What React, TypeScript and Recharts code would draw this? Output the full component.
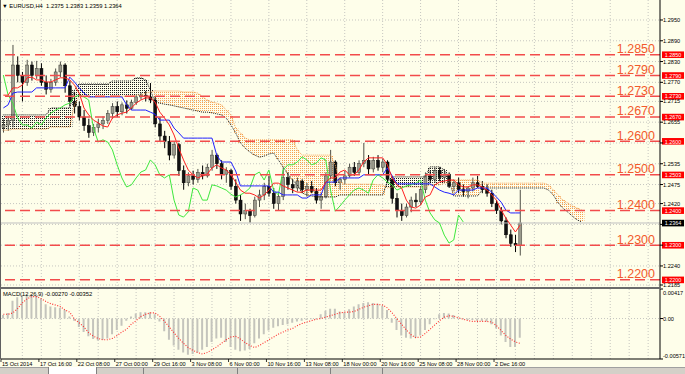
import React from "react";
import { ComposedChart, Bar, Line, XAxis, YAxis, ReferenceLine, CartesianGrid } from "recharts";

// EURUSD H4 - one slot holds two H4 bars. Quotes are the last four digits: 2647 -> 1.2647
const opens = [
  2640, 2647, 2660, 2820, 2790, 2770, 2820, 2790, 2810, 2770,
  2750, 2770, 2800, 2820, 2760, 2715, 2700, 2670, 2645, 2625,
  2640, 2650, 2660, 2680, 2700, 2685, 2705, 2695, 2712, 2728,
  2733, 2728, 2719, 2650, 2615, 2600, 2560, 2590, 2515, 2480,
  2500, 2490, 2510, 2500, 2525, 2560, 2535, 2505, 2515, 2470,
  2430, 2390, 2400, 2385, 2430, 2445, 2470, 2450, 2420, 2440,
  2495, 2475, 2465, 2485, 2460, 2470, 2455, 2430, 2440, 2500,
  2540, 2480, 2490, 2500, 2525, 2510, 2535, 2545, 2520, 2545,
  2525, 2540, 2490, 2435, 2400, 2385, 2410, 2430, 2425, 2460,
  2500, 2490, 2515, 2495, 2505, 2470, 2480, 2460, 2455, 2465,
  2480, 2470, 2460, 2450, 2420, 2400, 2370, 2330, 2305, 2300,
];
const highs = [
  2665, 2672, 2878, 2845, 2800, 2835, 2830, 2832, 2825, 2790,
  2780, 2810, 2830, 2825, 2775, 2740, 2715, 2690, 2665, 2650,
  2665, 2672, 2690, 2710, 2715, 2712, 2718, 2720, 2735, 2740,
  2745, 2768, 2730, 2670, 2630, 2615, 2600, 2595, 2530, 2510,
  2515, 2520, 2530, 2535, 2575, 2565, 2545, 2525, 2520, 2490,
  2445, 2420, 2405, 2440, 2460, 2480, 2500, 2465, 2450, 2525,
  2510, 2490, 2495, 2490, 2480, 2485, 2465, 2450, 2510, 2575,
  2545, 2495, 2515, 2535, 2540, 2545, 2595, 2560, 2555, 2560,
  2550, 2545, 2500, 2450, 2420, 2420, 2440, 2450, 2470, 2510,
  2515, 2525, 2525, 2520, 2510, 2490, 2495, 2475, 2470, 2495,
  2500, 2485, 2475, 2460, 2430, 2410, 2380, 2345, 2330, 2460,
];
const lows = [
  2625, 2630, 2640, 2770, 2715, 2760, 2775, 2780, 2760, 2735,
  2740, 2760, 2785, 2740, 2700, 2680, 2660, 2630, 2610, 2615,
  2625, 2635, 2650, 2665, 2670, 2675, 2680, 2690, 2705, 2720,
  2715, 2710, 2640, 2600, 2580, 2545, 2550, 2500, 2460, 2470,
  2475, 2480, 2490, 2495, 2515, 2520, 2490, 2480, 2460, 2420,
  2370, 2375, 2365, 2380, 2410, 2430, 2440, 2405, 2400, 2430,
  2460, 2450, 2455, 2450, 2440, 2450, 2420, 2405, 2435, 2490,
  2470, 2460, 2475, 2495, 2500, 2505, 2525, 2505, 2510, 2515,
  2510, 2480, 2420, 2380, 2370, 2380, 2395, 2410, 2415, 2450,
  2480, 2480, 2485, 2480, 2465, 2455, 2450, 2440, 2435, 2455,
  2465, 2450, 2440, 2410, 2390, 2360, 2320, 2295, 2280, 2270,
];
const closes = [
  2647, 2660, 2820, 2790, 2770, 2820, 2790, 2810, 2770, 2750,
  2770, 2800, 2820, 2760, 2715, 2700, 2670, 2645, 2625, 2640,
  2650, 2660, 2680, 2700, 2685, 2705, 2695, 2712, 2728, 2733,
  2728, 2719, 2650, 2615, 2600, 2560, 2590, 2515, 2480, 2500,
  2490, 2510, 2500, 2525, 2560, 2535, 2505, 2515, 2470, 2430,
  2390, 2400, 2385, 2430, 2445, 2470, 2450, 2420, 2440, 2495,
  2475, 2465, 2485, 2460, 2470, 2455, 2430, 2440, 2500, 2540,
  2480, 2490, 2500, 2525, 2510, 2535, 2545, 2520, 2545, 2525,
  2540, 2490, 2435, 2400, 2385, 2410, 2430, 2425, 2460, 2500,
  2490, 2515, 2495, 2505, 2470, 2480, 2460, 2455, 2465, 2480,
  2470, 2460, 2450, 2420, 2400, 2370, 2330, 2305, 2300, 2364,
];

// Ichimoku
const tenkan = [
  2733, 2733, 2754, 2754, 2762, 2783, 2785, 2777, 2777, 2771,
  2771, 2777, 2783, 2783, 2777, 2762, 2739, 2696, 2676, 2661,
  2653, 2644, 2641, 2667, 2676, 2681, 2684, 2696, 2710, 2719,
  2725, 2725, 2713, 2684, 2667, 2647, 2618, 2580, 2546, 2517,
  2503, 2494, 2500, 2505, 2523, 2532, 2523, 2517, 2503, 2482,
  2459, 2450, 2450, 2445, 2436, 2445, 2459, 2479, 2479, 2471,
  2465, 2459, 2453, 2453, 2459, 2459, 2459, 2459, 2482, 2494,
  2494, 2511, 2517, 2503, 2503, 2517, 2540, 2552, 2552, 2552,
  2552, 2532, 2494, 2474, 2465, 2430, 2410, 2407, 2416, 2439,
  2445, 2474, 2482, 2485, 2488, 2488, 2474, 2468, 2468, 2474,
  2474, 2468, 2459, 2445, 2430, 2401, 2378, 2358, 2338, 2358,
];
const kijun = [
  2696, 2705, 2739, 2742, 2742, 2742, 2742, 2754, 2754, 2754,
  2754, 2754, 2754, 2754, 2785, 2771, 2754, 2739, 2728, 2728,
  2728, 2728, 2728, 2728, 2728, 2728, 2705, 2690, 2690, 2690,
  2690, 2684, 2678, 2661, 2661, 2661, 2638, 2624, 2609, 2609,
  2609, 2609, 2609, 2609, 2609, 2560, 2540, 2540, 2540, 2514,
  2471, 2471, 2471, 2471, 2471, 2471, 2471, 2453, 2453, 2445,
  2445, 2445, 2445, 2436, 2436, 2445, 2445, 2445, 2482, 2482,
  2482, 2494, 2494, 2494, 2494, 2494, 2503, 2503, 2503, 2503,
  2503, 2523, 2500, 2477, 2477, 2477, 2477, 2477, 2477, 2477,
  2477, 2468, 2459, 2453, 2450, 2445, 2459, 2459, 2459, 2459,
  2465, 2465, 2465, 2453, 2439, 2424, 2401, 2393, 2393, 2393,
];
const chikou = [
  2791, 2733, 2710, 2667, 2647, 2647, 2638, 2655, 2647, 2667,
  2681, 2690, 2696, 2705, 2710, 2728, 2733, 2728, 2719, 2638,
  2598, 2604, 2598, 2575, 2532, 2494, 2468, 2474, 2494, 2511,
  2517, 2546, 2532, 2503, 2494, 2503, 2430, 2387, 2381, 2396,
  2465, 2459, 2430, 2430, 2474, 2471, 2465, 2459, 2447, 2439,
  2445, 2453, 2465, 2503, 2511, 2488, 2517, 2459, 2445, 2517,
  2532, 2532, 2540, 2555, 2546, 2532, 2537, 2552, 2546, 2459,
  2398, 2413, 2430, 2445, 2459, 2465, 2459, 2450, 2488, 2503,
  2494, 2482, 2474, 2459, 2465, 2471, 2474, 2479, 2488, 2430,
  2393, 2373, 2364, 2329, 2306, 2315, 2387, 2367,
];
const spanA = [
  2632, 2632, 2635, 2635, 2635, 2635, 2635, 2635, 2635, 2635,
  2641, 2641, 2641, 2641, 2641, 2705, 2728, 2728, 2728, 2728,
  2728, 2728, 2728, 2730, 2730, 2730, 2730, 2730, 2733, 2733,
  2739, 2742, 2745, 2745, 2745, 2745, 2745, 2745, 2742, 2742,
  2742, 2739, 2728, 2719, 2713, 2710, 2705, 2690, 2676, 2638,
  2624, 2609, 2604, 2604, 2604, 2604, 2604, 2604, 2604, 2604,
  2604, 2604, 2575, 2560, 2560, 2560, 2560, 2560, 2560, 2560,
  2531, 2482, 2476, 2476, 2476, 2476, 2476, 2476, 2476, 2474,
  2474, 2465, 2468, 2468, 2468, 2468, 2468, 2468, 2468, 2468,
  2474, 2474, 2474, 2479, 2482, 2488, 2488, 2488, 2488, 2488,
  2488, 2479, 2479, 2479, 2479, 2479, 2479, 2479, 2479, 2479,
  2479, 2479, 2479, 2479, 2479, 2474, 2459, 2445, 2430, 2422,
  2413, 2407, 2401,
];
const spanB = [
  2676, 2676, 2676, 2676, 2676, 2676, 2676, 2676, 2676, 2676,
  2696, 2696, 2696, 2696, 2696, 2748, 2765, 2765, 2765, 2765,
  2765, 2765, 2765, 2774, 2774, 2774, 2774, 2774, 2783, 2783,
  2777, 2748, 2713, 2710, 2707, 2705, 2702, 2699, 2696, 2693,
  2690, 2687, 2684, 2684, 2682, 2679, 2676, 2667, 2647, 2624,
  2595, 2580, 2569, 2560, 2554, 2557, 2563, 2566, 2546, 2526,
  2505, 2488, 2474, 2451, 2445, 2442, 2439, 2439, 2439, 2439,
  2439, 2445, 2445, 2445, 2445, 2445, 2445, 2445, 2445, 2445,
  2445, 2482, 2497, 2497, 2497, 2497, 2497, 2497, 2497, 2497,
  2526, 2526, 2526, 2517, 2488, 2442, 2442, 2442, 2442, 2442,
  2442, 2459, 2465, 2465, 2465, 2465, 2465, 2465, 2465, 2465,
  2465, 2465, 2465, 2465, 2465, 2459, 2445, 2422, 2407, 2396,
  2384, 2373, 2367,
];

// MACD(12,26,9) in units of 0.0001
const macdMain = [
  5, 8, 25, 30, 33, 34, 34, 32, 28, 20,
  17, 16, 15, 12, 3, -3, -12, -19, -25, -29,
  -31, -30, -28, -22, -16, -10, -3, 3, 7, 9,
  9, 9, 6, -4, -18, -30, -38, -44, -48, -51,
  -50, -48, -44, -40, -33, -28, -27, -33, -40, -44,
  -46, -45, -43, -35, -28, -22, -17, -13, -11, -9,
  -8, -6, -4, -3, -2, -1, -1, 6, 11, 14,
  14, 10, 9, 13, 17, 20, 22, 23, 22, 21,
  18, 12, -6, -16, -24, -27, -28, -27, -24, -16,
  -8, -1, 6, 8, 7, 5, 1, -1, -2, -2,
  -3, -3, -4, -8, -14, -24, -33, -40, -40, -27,
];
const macdSignal = [
  6, 6, 8, 14, 22, 28, 31, 31, 28, 24,
  21, 19, 17, 12, 9, -1, -6, -12, -20, -25,
  -28, -30, -30, -28, -24, -19, -15, -8, -3, 3,
  6, 8, 8, 3, -4, -12, -20, -28, -35, -41,
  -45, -48, -50, -48, -44, -40, -35, -30, -26, -25,
  -29, -34, -38, -41, -38, -34, -30, -26, -22, -19,
  -16, -14, -10, -7, -5, -3, -1, 0, 2, 4,
  6, 8, 9, 9, 10, 13, 16, 18, 20, 20,
  19, 15, 8, 0, -8, -16, -23, -27, -26, -21,
  -15, -9, -3, 2, 4, 3, 1, -1, -3, -4,
  -4, -4, -4, -5, -10, -17, -24, -29, -33, -35,
];

// horizontal levels drawn on the chart
const levels = [2850, 2790, 2730, 2670, 2600, 2503, 2400, 2300, 2200];
const levelTitles = ["1.2850", "1.2790", "1.2730", "1.2670", "1.2600", "1.2500", "1.2400", "1.2300", "1.2200"];
const bid = 2364;

const priceTicks = [2950, 2890, 2830, 2770, 2715, 2655, 2595, 2535, 2475, 2420, 2360, 2300, 2240, 2185];
const hiddenTicks = [2595, 2360, 2300];
const macdTicks = [0.00417, 0, -0.00571];
const macdTickText = ["0.00417", "0.00", "-0.00571"];

const timeSlots = [0, 8, 16, 24, 32, 40, 48, 56, 64, 72, 80, 88, 96, 104];
const timeLabels = [
  "15 Oct 2014", "17 Oct 16:00", "22 Oct 08:00", "27 Oct 00:00", "29 Oct 16:00",
  "3 Nov 08:00", "6 Nov 00:00", "10 Nov 16:00", "13 Nov 08:00", "18 Nov 00:00",
  "20 Nov 16:00", "25 Nov 08:00", "28 Nov 00:00", "2 Dec 16:00",
];

const SLOTS = 139;
const BG = "#fefeea";
const FONT = "'Liberation Sans', Arial, sans-serif";
const LEVEL_RED = "#f24b4b";
const CLOUD_UP = "#f5a050";
const CLOUD_DN = "#1a1a1a";

const q = (v?: number | null) => (v == null ? null : 1 + v / 10000);
const gridSlots = Array.from({ length: 34 }, (_, k) => (k + 1) * 4);

const rows = Array.from({ length: SLOTS }, (_, i) => ({
  i,
  o: q(opens[i]),
  h: q(highs[i]),
  l: q(lows[i]),
  c: q(closes[i]),
  tenkan: q(tenkan[i]),
  kijun: q(kijun[i]),
  chikou: q(chikou[i]),
  spanA: q(spanA[i]),
  spanB: q(spanB[i]),
  macd: macdMain[i] == null ? null : macdMain[i] / 10000,
  signal: macdSignal[i] == null ? null : macdSignal[i] / 10000,
}));

function Candle(props: any) {
  const { x, y, width, height, payload } = props;
  if (payload.h == null || height == null) return null;
  const { o, h, l, c } = payload;
  const k = h - l > 0 ? height / (h - l) : 0;
  const cx = x + width / 2;
  const top = y + (h - Math.max(o, c)) * k;
  const bot = y + (h - Math.min(o, c)) * k;
  const up = c >= o;
  return (
    <g>
      <line x1={cx} x2={cx} y1={y} y2={y + height} stroke={up ? "#505048" : "#000"} strokeWidth={1} />
      <rect
        x={cx - 1.5}
        y={top}
        width={3}
        height={Math.max(bot - top, 0.8)}
        fill={up ? "#9a9a8c" : "#111"}
        stroke={up ? "#3c3c36" : "#000"}
        strokeWidth={0.5}
      />
    </g>
  );
}

// Kumo: dotted fill between the two spans, coloured by which span is on top
function CloudStrip(props: any) {
  const { x, y, width, height, payload } = props;
  if (payload.spanA == null || height == null) return null;
  const fill = payload.spanA >= payload.spanB ? "url(#kumoUp)" : "url(#kumoDn)";
  return <rect x={x} y={y} width={width} height={Math.max(height, 1)} fill={fill} />;
}

function LevelLabel(props: any) {
  const { viewBox, title, box, boxColor } = props;
  if (!viewBox) return null;
  const right = viewBox.x + viewBox.width;
  const y = viewBox.y;
  return (
    <g fontFamily={FONT}>
      {title && (
        <text x={right - 5} y={y - 1.6} textAnchor="end" fontSize={12.5} fill="#f25a2c">
          {title}
        </text>
      )}
      <rect x={right + 2} y={y - 3.2} width={22} height={6.6} fill={boxColor} />
      <text x={right + 13} y={y + 0.3} textAnchor="middle" dominantBaseline="central" fontSize={5.4} fill="#fff">
        {box}
      </text>
    </g>
  );
}

function PriceTick(props: any) {
  const { x, y, payload } = props;
  const pip = Math.round((payload.value - 1) * 10000);
  if (hiddenTicks.includes(pip)) return null;
  return (
    <text x={x} y={y} dominantBaseline="central" fontSize={5.6} fill="#000" fontFamily={FONT}>
      {payload.value.toFixed(4)}
    </text>
  );
}

function MacdTick(props: any) {
  const { x, y, index } = props;
  const shift = index === 0 ? 4 : index === 2 ? -3 : 0;
  return (
    <text x={x} y={y + shift} dominantBaseline="central" fontSize={5.6} fill="#000" fontFamily={FONT}>
      {macdTickText[index]}
    </text>
  );
}

function TimeTick(props: any) {
  const { x, y, payload } = props;
  const idx = timeSlots.indexOf(payload.value);
  if (idx < 0) return null;
  const left = x - 2.4;
  return (
    <g fontFamily={FONT}>
      <line x1={left} x2={left} y1={y} y2={y + 3} stroke="#000" strokeWidth={0.8} />
      <text x={left + 1} y={y + 6.8} fontSize={5.6} fill="#000">
        {timeLabels[idx]}
      </text>
    </g>
  );
}

export default function App() {
  const priceTickVals = priceTicks.map((p) => q(p) as number);
  return (
    <div
      style={{
        position: "absolute",
        left: 0,
        top: 0,
        width: 685,
        height: 374,
        background: BG,
        overflow: "hidden",
        fontFamily: FONT,
      }}
    >
      <div style={{ position: "absolute", left: 0, top: 0 }}>
        <ComposedChart
          width={685}
          height={287}
          data={rows}
          margin={{ top: 0, right: 0, bottom: 0, left: 1 }}
          barCategoryGap={0}
          barGap={0}
        >
          <defs>
            <pattern id="kumoUp" width={2} height={2} patternUnits="userSpaceOnUse">
              <rect x={0} y={0} width={1} height={1} fill={CLOUD_UP} />
            </pattern>
            <pattern id="kumoDn" width={2} height={2} patternUnits="userSpaceOnUse">
              <rect x={0} y={0} width={1} height={1} fill={CLOUD_DN} />
            </pattern>
          </defs>
          <XAxis xAxisId="a" dataKey="i" type="category" hide />
          <XAxis xAxisId="b" dataKey="i" type="category" hide />
          <YAxis
            orientation="right"
            width={25}
            type="number"
            domain={[1.21792, 1.30077]}
            allowDataOverflow
            ticks={priceTickVals}
            interval={0}
            tick={<PriceTick />}
            tickSize={3}
            tickMargin={0}
            tickLine={{ stroke: "#000" }}
            axisLine={{ stroke: "#000" }}
          />
          <CartesianGrid
            xAxisId="a"
            horizontalValues={priceTickVals}
            verticalValues={gridSlots}
            stroke="#c6c6c0"
            strokeDasharray="1 2"
          />
          <Bar
            xAxisId="b"
            dataKey={(d: any) => (d.spanA == null ? null : [Math.min(d.spanA, d.spanB), Math.max(d.spanA, d.spanB)])}
            shape={<CloudStrip />}
            isAnimationActive={false}
          />
          <Line xAxisId="a" dataKey="spanA" stroke={CLOUD_UP} strokeDasharray="1 1" dot={false} isAnimationActive={false} />
          <Line xAxisId="a" dataKey="spanB" stroke={CLOUD_DN} strokeDasharray="1 1" dot={false} isAnimationActive={false} />
          <ReferenceLine xAxisId="a" y={q(bid) as number} stroke="#c0c0c0" strokeWidth={1} />
          <Line xAxisId="a" dataKey="chikou" stroke="#3ee83e" strokeWidth={1} dot={false} isAnimationActive={false} />
          <Bar
            xAxisId="a"
            dataKey={(d: any) => (d.h == null ? null : [d.l, d.h])}
            shape={<Candle />}
            isAnimationActive={false}
          />
          <Line xAxisId="a" dataKey="kijun" stroke="#2020ff" strokeWidth={1} dot={false} isAnimationActive={false} />
          <Line xAxisId="a" dataKey="tenkan" stroke="#ff2020" strokeWidth={1} dot={false} isAnimationActive={false} />
          {levels.map((lv, n) => (
            <ReferenceLine
              key={lv}
              xAxisId="a"
              y={q(lv) as number}
              stroke={LEVEL_RED}
              strokeWidth={1.5}
              strokeDasharray="10 5"
              label={<LevelLabel title={levelTitles[n]} box={(q(lv) as number).toFixed(4)} boxColor="#ff0000" />}
            />
          ))}
          <ReferenceLine
            xAxisId="a"
            y={q(bid) as number}
            stroke="none"
            label={<LevelLabel box={(q(bid) as number).toFixed(4)} boxColor="#000" />}
          />
        </ComposedChart>
      </div>

      <div style={{ position: "absolute", left: 0, top: 288 }}>
        <ComposedChart
          width={685}
          height={80}
          data={rows}
          margin={{ top: 1, right: 0, bottom: 0, left: 1 }}
          barCategoryGap={0}
        >
          <XAxis
            xAxisId="m"
            dataKey="i"
            type="category"
            height={9}
            ticks={timeSlots}
            interval={0}
            tick={<TimeTick />}
            tickSize={0}
            tickMargin={0}
            tickLine={false}
            axisLine={{ stroke: "#000" }}
          />
          <YAxis
            orientation="right"
            width={25}
            type="number"
            domain={[-0.00571, 0.00417]}
            allowDataOverflow
            ticks={macdTicks}
            interval={0}
            tick={<MacdTick />}
            tickSize={3}
            tickMargin={0}
            tickLine={{ stroke: "#000" }}
            axisLine={{ stroke: "#000" }}
          />
          <CartesianGrid
            xAxisId="m"
            horizontalValues={[0]}
            verticalValues={gridSlots}
            stroke="#c6c6c0"
            strokeDasharray="1 2"
          />
          <Bar xAxisId="m" dataKey="macd" barSize={2} fill="#c4c4bc" isAnimationActive={false} />
          <Line
            xAxisId="m"
            dataKey="signal"
            stroke="#ff2a2a"
            strokeWidth={1.1}
            strokeDasharray="1 1.6"
            dot={false}
            isAnimationActive={false}
          />
        </ComposedChart>
      </div>

      {/* frame */}
      <div style={{ position: "absolute", left: 0, top: 0, width: 1, height: 359, background: "#606060" }} />
      <div style={{ position: "absolute", left: 0, top: 287, width: 661, height: 2, background: "#6a6a6a" }} />

      {/* captions */}
      <div style={{ position: "absolute", left: 2, top: 3, fontSize: 5.8, lineHeight: "7px", whiteSpace: "pre", color: "#000" }}>
        {"\u25BC EURUSD,H4  1.2375 1.2383 1.2359 1.2364"}
      </div>
      <div style={{ position: "absolute", left: 3, top: 291, fontSize: 5.8, lineHeight: "7px", whiteSpace: "pre", color: "#000" }}>
        {"MACD(12,26,9) -0.00270 -0.00352"}
      </div>

      {/* tab strip */}
      <div style={{ position: "absolute", left: 0, top: 367, width: 685, height: 7, background: "#d4d0c8", borderTop: "1px solid #a0a0a0" }} />
      <div style={{ position: "absolute", left: 48, top: 367, width: 47, height: 7, background: "#ffffff", borderLeft: "1px solid #808080", borderRight: "1px solid #808080" }} />
      {[143, 237, 330, 382].map((x) => (
        <div key={x} style={{ position: "absolute", left: x, top: 368, width: 1, height: 6, background: "#808080" }} />
      ))}
    </div>
  );
}
